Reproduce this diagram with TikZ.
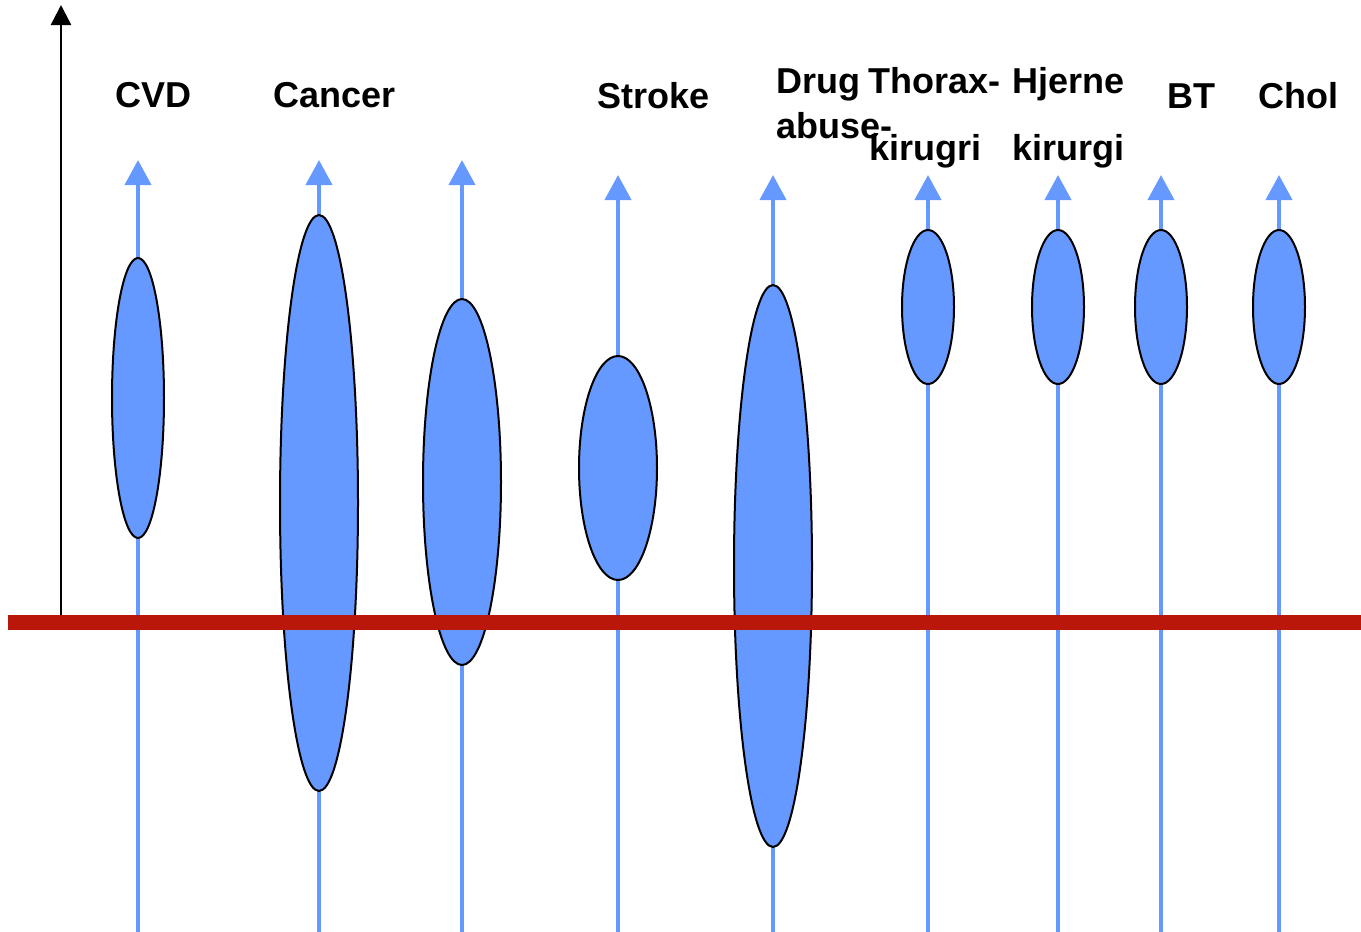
\documentclass[tikz,border=0pt]{standalone}
\usepackage{fontspec}
\setmainfont{Liberation Sans}
\usetikzlibrary{arrows.meta,shapes.geometric}
\definecolor{ablue}{HTML}{6699FF}
\definecolor{ared}{HTML}{B8170A}
\begin{document}
\begin{tikzpicture}[x=1pt,y=-1pt,
  bluearrow/.style={draw=ablue,line width=4pt,-{Triangle[width=26pt,length=25pt]}},
  blob/.style={ellipse,draw=black,line width=2pt,fill=ablue,inner sep=0pt},
  lbl/.style={anchor=base west,inner sep=0pt,font=\fontsize{36}{40}\selectfont\bfseries}]
\useasboundingbox (0,0) rectangle (1361,932);
% columns: x, top tip, center y, rx, ry
\foreach \i/\x/\t/\cy/\rx/\ry in {1/138/160/398/26/140,2/319/160/503/39/288,3/462/160/482/39/183,4/618/175/468/39/112,5/773/175/566/39/281,6/928/175/307/26/77,7/1058/175/307/26/77,8/1161/175/307/26/77,9/1279/175/307/26/77}{
  \coordinate (b\i) at (\x,932);
  \coordinate (t\i) at (\x,\t);
  \draw[bluearrow] (b\i) -- (t\i);
  \node[blob,minimum width=2*\rx pt,minimum height=2*\ry pt] (e\i) at (\x,\cy) {};
}
% axis
\coordinate (a0) at (61,615);
\coordinate (a1) at (61,5);
\draw[line width=2.5pt,-{Triangle[width=20pt,length=20pt]}] (a0) -- (a1);
% red baseline
\coordinate (r0) at (8,622);
\coordinate (r1) at (1361,622);
\draw[ared,line width=15pt] (r0) -- (r1);
% labels
\node[lbl] (l1) at (115,107) {CVD};
\node[lbl] (l2) at (273,107) {Cancer};
\node[lbl] (l3) at (597,108) {Stroke};
\node[lbl] (l4) at (776,93) {Drug};
\node[lbl] (l4b) at (776,138) {abuse-};
\node[lbl] (l5) at (868,93) {Thorax-};
\node[lbl] (l5b) at (869,160) {kirugri};
\node[lbl] (l6) at (1012,93) {Hjerne};
\node[lbl] (l6b) at (1012,160) {kirurgi};
\node[lbl] (l7) at (1167,108) {BT};
\node[lbl] (l8) at (1258,108) {Chol};
\end{tikzpicture}
\end{document}
